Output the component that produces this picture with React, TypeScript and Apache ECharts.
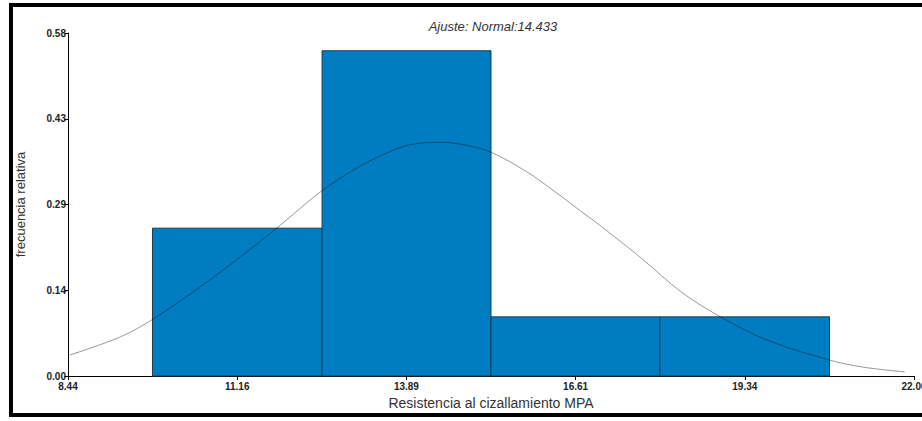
import React, { useEffect, useRef } from "react";
import * as echarts from "echarts";

const X_MIN = 8.44;
const X_MAX = 22.06;
const X_STEP = 2.724;
const xTickLabels = ["8.44", "11.16", "13.89", "16.61", "19.34", "22.06"];

const Y_MAX = 0.58;
const Y_STEP = 0.145;
const yTickLabels = ["0.00", "0.14", "0.29", "0.43", "0.58"];

const binLower = [9.8, 12.53, 15.25, 17.97];
const binUpper = [12.53, 15.25, 17.97, 20.7];
const relFreq = [0.25, 0.55, 0.1, 0.1];

const curveX = [8.47, 9.28, 9.79, 10.56, 11.21, 11.8, 12.5, 13.03, 13.57, 13.99, 14.48, 14.86, 15.26, 15.83, 16.25, 16.68, 17.0, 17.65, 18.34, 18.98, 19.69, 20.7, 21.24, 21.91];
const curveY = [0.0355, 0.066, 0.095, 0.15, 0.201, 0.25, 0.311, 0.348, 0.377, 0.392, 0.395, 0.39, 0.378, 0.345, 0.314, 0.28, 0.255, 0.201, 0.14, 0.098, 0.061, 0.027, 0.015, 0.007];

const title = "Ajuste: Normal:14.433";
const xName = "Resistencia al cizallamiento MPA";
const yName = "frecuencia relativa";

export default function App() {
  const ref = useRef<HTMLDivElement>(null);
  useEffect(() => {
    if (!ref.current) return;
    const chart = echarts.init(ref.current, null, { renderer: "svg", width: 922, height: 421 });
    const font = "'Liberation Sans', Arial, sans-serif";
    const barData = relFreq.map((f, i) => [binLower[i] - X_MIN, binUpper[i] - X_MIN, f]);
    const lineData = curveX.map((x, i) => [x - X_MIN, curveY[i]]);
    chart.setOption({
      animation: false,
      textStyle: { fontFamily: font },
      title: {
        text: title,
        left: 488,
        textAlign: "center",
        top: 15,
        textStyle: { fontSize: 13, fontStyle: "italic", fontWeight: "normal", color: "#333", fontFamily: font },
      },
      graphic: [
        {
          type: "rect",
          shape: { x: 11, y: 5, width: 1000, height: 410 },
          style: { fill: "none", stroke: "#000", lineWidth: 4 },
          silent: true,
        },
      ],
      grid: { left: 68, right: 8, top: 33, bottom: 45, containLabel: false, outerBoundsMode: "none" },
      xAxis: {
        type: "value",
        min: 0,
        max: X_MAX - X_MIN,
        interval: X_STEP,
        name: xName,
        nameLocation: "middle",
        nameGap: 17,
        nameTextStyle: { fontSize: 14, color: "#333", fontFamily: font },
        axisLine: { onZero: false, lineStyle: { color: "#000", width: 1 } },
        axisTick: { show: true, length: 4, lineStyle: { color: "#000" } },
        splitLine: { show: false },
        axisLabel: {
          fontSize: 10,
          fontWeight: "bold",
          color: "#222",
          margin: 5,
          fontFamily: font,
          formatter: (v: number) => xTickLabels[Math.round(v / X_STEP)] ?? "",
        },
      },
      yAxis: {
        type: "value",
        min: 0,
        max: Y_MAX,
        interval: Y_STEP,
        name: yName,
        nameLocation: "middle",
        nameGap: 41,
        nameTextStyle: { fontSize: 13, color: "#333", fontFamily: font },
        axisLine: { show: true, lineStyle: { color: "#000", width: 1 } },
        axisTick: { show: true, length: 4, lineStyle: { color: "#000" } },
        splitLine: { show: false },
        axisLabel: {
          fontSize: 10,
          fontWeight: "bold",
          color: "#222",
          margin: 2,
          fontFamily: font,
          formatter: (v: number) => yTickLabels[Math.round(v / Y_STEP)] ?? "",
        },
      },
      series: [
        {
          type: "custom",
          data: barData,
          z: 2,
          renderItem: (params: any, api: any) => {
            const lo = api.value(0);
            const hi = api.value(1);
            const h = api.value(2);
            const p1 = api.coord([lo, h]);
            const p2 = api.coord([hi, 0]);
            return {
              type: "rect",
              shape: { x: p1[0], y: p1[1], width: p2[0] - p1[0], height: p2[1] - p1[1] },
              style: { fill: "#007DC0", stroke: "#1f3b52", lineWidth: 1 },
            };
          },
          encode: { x: [0, 1], y: 2 },
        },
        {
          type: "line",
          data: lineData,
          smooth: 0.35,
          symbol: "none",
          z: 3,
          lineStyle: { color: "rgba(0,0,0,0.4)", width: 1 },
        },
      ],
    });
    return () => chart.dispose();
  }, []);
  return <div ref={ref} style={{ position: "absolute", left: 0, top: 0, width: 922, height: 421, background: "#fff" }} />;
}
